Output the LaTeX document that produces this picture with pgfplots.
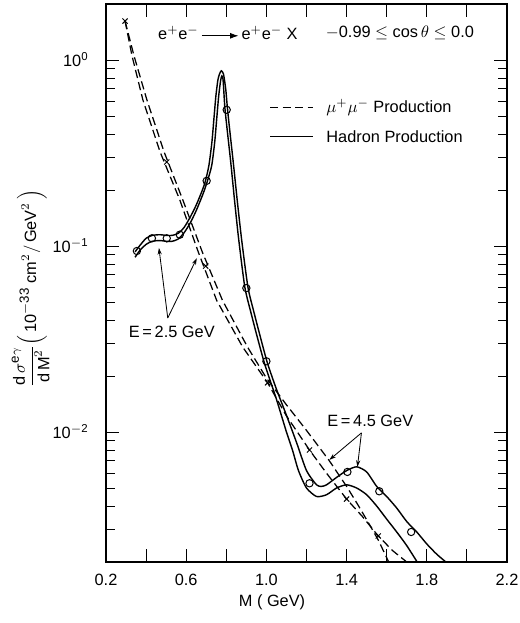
\documentclass[border=0pt]{standalone}
\usepackage{pgfplots}
\pgfplotsset{compat=1.18}
\usetikzlibrary{arrows.meta}
\usepackage{fontspec}
\setmainfont{Liberation Sans}
\begin{document}
\begin{tikzpicture}[font=\fontsize{9.8}{11.5}\selectfont]
\begin{axis}[
  scale only axis, width=240.6pt, height=334.8pt,
  xmin=0.2, xmax=2.2, ymode=log, ymin=0.002, ymax=2,
  xtick={0.2,0.4,0.6,0.8,1.0,1.2,1.4,1.6,1.8,2.0,2.2},
  xticklabels={0.2,,0.6,,1.0,,1.4,,1.8,,2.2},
  ytick={0.01,0.1,1},
  yticklabels={10\textsuperscript{$-$2},10\textsuperscript{$-$1},10\textsuperscript{0}},
  minor ytick={0.002,0.003,0.004,0.005,0.006,0.007,0.008,0.009,0.02,0.03,0.04,0.05,0.06,0.07,0.08,0.09,0.2,0.3,0.4,0.5,0.6,0.7,0.8,0.9,2},
  tick align=inside, major tick length=8pt, minor tick length=5.5pt,
  every tick/.style={black, line width=0.5pt},
  axis line style={line width=0.8pt},
  xticklabel style={yshift=-4pt},
  yticklabel style={xshift=-7pt},
  clip mode=individual,
]
% mu+mu- production, E = 2.5 GeV
\addplot[black, line width=0.75pt, dash pattern=on 5pt off 2.5pt] coordinates {
(0.295,1.62) (0.34,1.05) (0.404,0.61) (0.49,0.32) (0.583,0.177) (0.68,0.093)
(0.781,0.051) (0.906,0.0286) (1.00,0.0195) (1.10,0.0140) (1.20,0.0102)
(1.314,0.0070) (1.40,0.0051) (1.46,0.0040) (1.52,0.0031) (1.56,0.0026) (1.61,0.0020)};
% mu+mu- production, E = 4.5 GeV
\addplot[black, line width=0.75pt, dash pattern=on 5pt off 2.5pt] coordinates {
(0.295,1.62) (0.33,1.05) (0.384,0.61) (0.47,0.32) (0.568,0.177) (0.66,0.093)
(0.752,0.051) (0.882,0.0286) (1.006,0.0184) (1.10,0.0122) (1.215,0.0080)
(1.30,0.0060) (1.40,0.00436) (1.48,0.0035) (1.558,0.00276) (1.63,0.0023) (1.70,0.0020)};
% hadron production, E = 4.5 GeV
\addplot[black, line width=0.85pt, smooth, tension=0.4] coordinates {
(0.345,0.093) (0.37,0.101) (0.40,0.110) (0.43,0.114) (0.47,0.115) (0.50,0.114)
(0.53,0.114) (0.56,0.117) (0.59,0.126) (0.62,0.143) (0.65,0.166) (0.68,0.199)
(0.695,0.222) (0.713,0.27) (0.728,0.36) (0.738,0.48) (0.748,0.64) (0.758,0.78)
(0.766,0.84) (0.775,0.875) (0.786,0.84) (0.797,0.70) (0.805,0.56) (0.815,0.44)
(0.835,0.28) (0.856,0.17) (0.877,0.107) (0.908,0.060) (0.938,0.044) (0.968,0.033)
(1.005,0.0235) (1.05,0.017) (1.10,0.0123) (1.15,0.0088) (1.20,0.0062) (1.25,0.0052)
(1.275,0.0051) (1.30,0.0052) (1.35,0.0057) (1.40,0.0062) (1.45,0.0065) (1.50,0.0061)
(1.55,0.0051) (1.60,0.0045) (1.65,0.0039) (1.70,0.0033) (1.75,0.0029) (1.80,0.0025)
(1.85,0.0022) (1.90,0.00198)};
% hadron production, E = 2.5 GeV
\addplot[black, line width=0.85pt, smooth, tension=0.4] coordinates {
(0.345,0.087) (0.37,0.095) (0.40,0.102) (0.43,0.106) (0.47,0.107) (0.50,0.106)
(0.53,0.106) (0.56,0.109) (0.59,0.118) (0.62,0.133) (0.65,0.155) (0.685,0.192)
(0.705,0.222) (0.727,0.27) (0.742,0.36) (0.752,0.48) (0.762,0.64) (0.772,0.78)
(0.778,0.82) (0.784,0.78) (0.7925,0.56) (0.8025,0.44) (0.8225,0.28) (0.8425,0.17)
(0.8625,0.107) (0.8925,0.060) (0.9225,0.044) (0.9525,0.033) (0.9925,0.023)
(1.05,0.0150) (1.10,0.0100) (1.13,0.0080) (1.16,0.0062) (1.20,0.0050) (1.25,0.0045)
(1.30,0.0046) (1.35,0.0050) (1.40,0.0052) (1.45,0.0050) (1.50,0.0046) (1.55,0.0040)
(1.60,0.0034) (1.65,0.0029) (1.70,0.00245) (1.752,0.0020)};
% hadron data points
\addplot[only marks, mark=o, mark size=2.2pt, mark options={fill=white, line width=0.6pt}] coordinates {
(0.354,0.094) (0.429,0.110) (0.503,0.110) (0.568,0.115) (0.702,0.224) (0.802,0.54)
(0.90,0.0594) (1.0,0.024) (1.215,0.0053) (1.404,0.0061) (1.563,0.0048) (1.722,0.0029)};
% mu pair points
\addplot[only marks, mark=x, mark size=2.2pt, mark options={line width=0.6pt}] coordinates {
(0.295,1.62) (0.503,0.283) (0.697,0.078) (1.006,0.0184) (1.215,0.0080) (1.40,0.00436) (1.558,0.00276)};
% annotations
\node at (axis cs:0.528,0.0345) {E\,=\,2.5 GeV};
\draw[line width=0.5pt, -{Stealth[length=4pt,width=2.5pt]}] (axis cs:0.508,0.041) -- (axis cs:0.464,0.0976);
\draw[line width=0.5pt, -{Stealth[length=4pt,width=2.5pt]}] (axis cs:0.508,0.041) -- (axis cs:0.653,0.086);
\node at (axis cs:1.518,0.01146) {E\,=\,4.5 GeV};
\draw[line width=0.5pt, -{Stealth[length=4pt,width=2.5pt]}] (axis cs:1.474,0.00989) -- (axis cs:1.314,0.00708);
\draw[line width=0.5pt, -{Stealth[length=4pt,width=2.5pt]}] (axis cs:1.474,0.00989) -- (axis cs:1.454,0.00649);
% title
\node at (rel axis cs:0.304,0.948) {e$^{+}$e$^{-}$\,\raisebox{0.1ex}{\tikz\draw[line width=0.5pt,-{Latex[length=5pt,width=3.5pt]}] (0,0)--(22pt,0);}\,e$^{+}$e$^{-}$ X};
\node at (rel axis cs:0.733,0.948) {$-$0.99 $\leq$ cos\,$\theta$ $\leq$ 0.0};
% legend
\draw[line width=0.75pt, dash pattern=on 5pt off 2.5pt] (rel axis cs:0.409,0.814) -- (rel axis cs:0.516,0.814);
\node[anchor=west] at (rel axis cs:0.535,0.814) {$\mu^{+}\mu^{-}$ Production};
\draw[line width=0.85pt] (rel axis cs:0.409,0.763) -- (rel axis cs:0.516,0.763);
\node[anchor=west] at (rel axis cs:0.535,0.763) {Hadron Production};
% axis labels
\node at (rel axis cs:0.414,-0.0717) {M ( GeV)};
\node[rotate=90] at (rel axis cs:-0.188,0.49) {$\displaystyle\frac{\mbox{d\,}\sigma^{\mbox{\footnotesize e}\gamma}}{\mbox{d\,M}^{2}}\Bigl(\,\mbox{10}^{\mbox{\footnotesize $-$33}}\ \mbox{cm}^{2}/\,\mbox{GeV}^{2}\,\Bigr)$};
\end{axis}
\pgfresetboundingbox
\path (-63.6pt,-36.6pt) rectangle (247.8pt,337.2pt);
\end{tikzpicture}
\end{document}
